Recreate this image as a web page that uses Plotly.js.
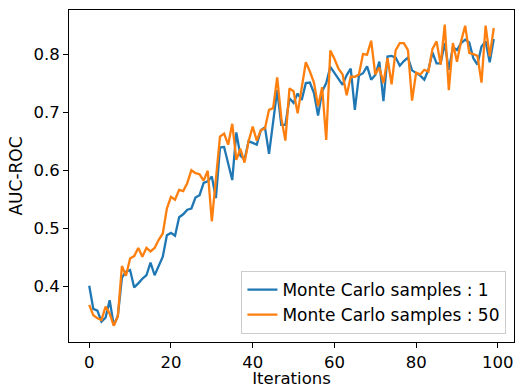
<!DOCTYPE html>
<html>
<head>
<meta charset="utf-8">
<script src="https://cdn.plot.ly/plotly-3.0.1.min.js"></script>
<style>html,body{margin:0;padding:0;background:#fff;}#chart{width:517px;height:388px;}</style>
</head>
<body>
<div id="chart"></div>
<script>
const seriesNames = ["Monte Carlo samples : 1", "Monte Carlo samples : 50"];
const iterations = Array.from({length: 100}, (_, i) => i);
const mc1 = [0.401,0.361,0.358,0.339,0.346,0.376,0.333,0.349,0.415,0.425,
0.428,0.398,0.405,0.413,0.419,0.441,0.419,0.435,0.451,0.488,
0.492,0.487,0.519,0.524,0.532,0.534,0.553,0.557,0.578,0.581,
0.589,0.552,0.639,0.640,0.612,0.583,0.665,0.625,0.618,0.650,
0.647,0.644,0.669,0.674,0.628,0.687,0.738,0.678,0.678,0.724,
0.716,0.732,0.721,0.750,0.751,0.733,0.694,0.736,0.750,0.778,
0.768,0.756,0.747,0.764,0.775,0.704,0.763,0.767,0.779,0.756,
0.764,0.787,0.719,0.796,0.797,0.794,0.780,0.788,0.794,0.772,
0.768,0.763,0.756,0.773,0.803,0.784,0.784,0.819,0.773,0.812,
0.807,0.819,0.825,0.820,0.793,0.782,0.813,0.822,0.786,0.826];
const mc50 = [0.368,0.350,0.345,0.342,0.365,0.353,0.332,0.348,0.435,0.418,
0.448,0.452,0.466,0.451,0.466,0.460,0.466,0.480,0.491,0.534,
0.554,0.549,0.566,0.564,0.578,0.600,0.595,0.593,0.582,0.599,
0.512,0.590,0.658,0.663,0.644,0.680,0.618,0.637,0.613,0.650,
0.675,0.651,0.669,0.672,0.704,0.707,0.760,0.690,0.651,0.741,
0.736,0.698,0.740,0.786,0.770,0.751,0.710,0.743,0.652,0.806,
0.792,0.775,0.765,0.729,0.761,0.761,0.765,0.800,0.799,0.823,
0.765,0.777,0.750,0.793,0.748,0.807,0.819,0.819,0.807,0.720,
0.768,0.765,0.773,0.770,0.809,0.822,0.782,0.851,0.738,0.819,
0.787,0.822,0.849,0.802,0.800,0.797,0.751,0.849,0.796,0.845];
const xTicks = [0, 20, 40, 60, 80, 100];
const yTicks = [0.4, 0.5, 0.6, 0.7, 0.8];

const font = "DejaVu Sans, sans-serif";
const traces = [
  {x: iterations, y: mc1, name: seriesNames[0], type: "scatter", mode: "lines",
   line: {color: "#1f77b4", width: 2.3}},
  {x: iterations, y: mc50, name: seriesNames[1], type: "scatter", mode: "lines",
   line: {color: "#ff7f0e", width: 2.3}}
];
const layout = {
  width: 517, height: 388,
  margin: {l: 69, r: 3, t: 10, b: 46},
  paper_bgcolor: "#fff", plot_bgcolor: "#fff",
  font: {family: font, color: "#000", size: 17},
  showlegend: true,
  legend: {x: 0.983, y: 0.024, xanchor: "right", yanchor: "bottom",
    bgcolor: "rgba(255,255,255,0.8)", bordercolor: "#cccccc", borderwidth: 1,
    font: {family: font, size: 17, color: "#000"}, tracegroupgap: 0},
  xaxis: {range: [-4.95, 103.95], tickvals: xTicks, ticks: "outside", ticklen: 5,
    tickcolor: "#000", showgrid: false, zeroline: false, showline: true, mirror: true,
    linecolor: "#000", linewidth: 1, tickfont: {size: 16.5},
    title: {text: "Iterations", font: {size: 16.5}, standoff: 0}},
  yaxis: {range: [0.304, 0.876], tickvals: yTicks, tickformat: ".1f", ticks: "outside", ticklen: 5,
    tickcolor: "#000", showgrid: false, zeroline: false, showline: true, mirror: true,
    linecolor: "#000", linewidth: 1, tickfont: {size: 16.5},
    title: {text: "AUC-ROC", font: {size: 17}, standoff: 6}}
};
Plotly.newPlot("chart", traces, layout, {displayModeBar: false, staticPlot: true});
</script>
</body>
</html>
